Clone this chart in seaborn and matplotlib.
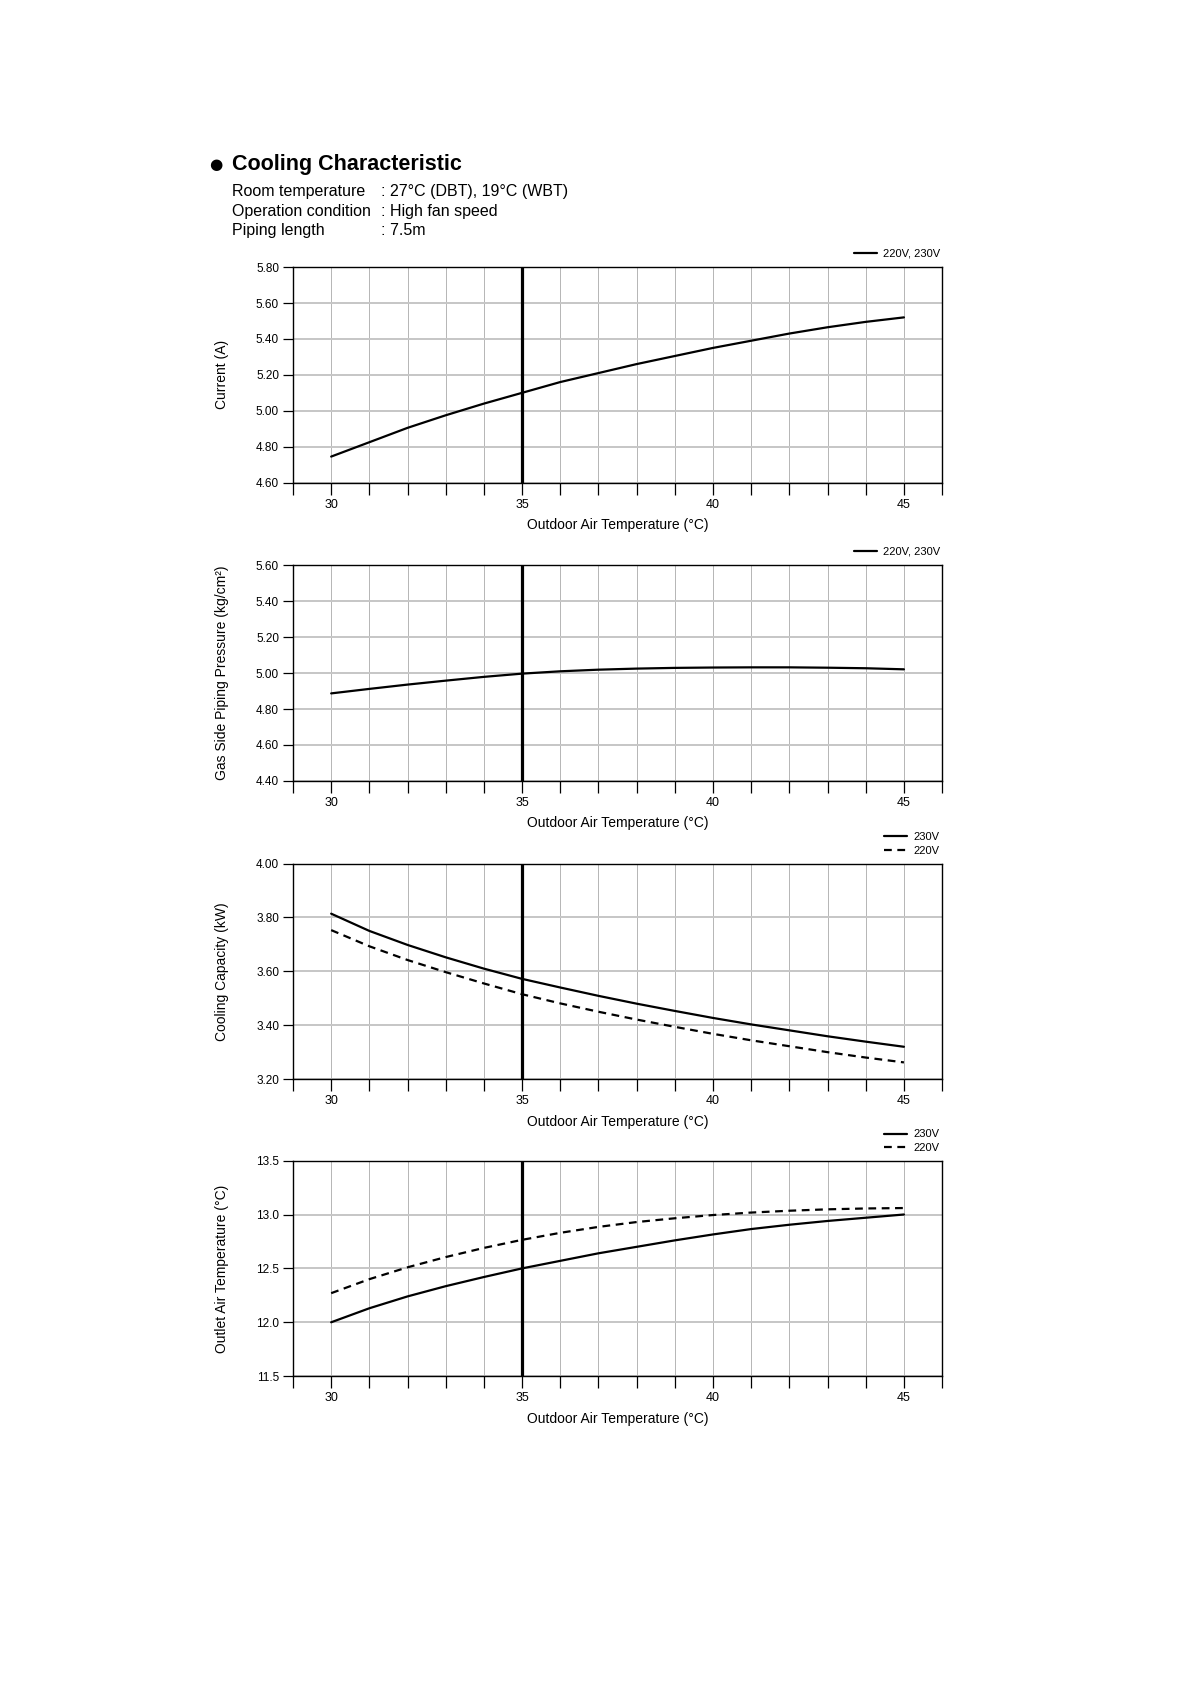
import matplotlib
matplotlib.use("Agg")
import pandas as pd
import matplotlib.pyplot as plt
import seaborn as sns
from matplotlib.ticker import FixedLocator, MultipleLocator, FormatStrFormatter

# ==============================================================================
# DATA
# ==============================================================================
OUTDOOR_TEMP = [30, 31, 32, 33, 34, 35, 36, 37, 38, 39, 40, 41, 42, 43, 44, 45]

CURRENT_A = [4.745, 4.825, 4.905, 4.975, 5.04, 5.10, 5.16, 5.21, 5.26, 5.305,
             5.35, 5.39, 5.43, 5.465, 5.495, 5.52]

GAS_PRESSURE = [4.887, 4.912, 4.936, 4.958, 4.979, 4.997, 5.010, 5.019, 5.025, 5.029,
                5.031, 5.032, 5.032, 5.030, 5.027, 5.021]

CAPACITY_230V = [3.814, 3.750, 3.698, 3.652, 3.610, 3.572, 3.540, 3.509, 3.480, 3.453,
                 3.427, 3.403, 3.381, 3.359, 3.339, 3.320]
CAPACITY_220V = [3.753, 3.693, 3.642, 3.597, 3.555, 3.515, 3.481, 3.450, 3.421, 3.394,
                 3.368, 3.344, 3.322, 3.300, 3.280, 3.262]

OUTLET_230V = [12.00, 12.13, 12.24, 12.335, 12.42, 12.50, 12.57, 12.64, 12.70, 12.76,
               12.815, 12.865, 12.905, 12.94, 12.97, 13.00]
OUTLET_220V = [12.27, 12.40, 12.51, 12.605, 12.69, 12.765, 12.83, 12.885, 12.93, 12.965,
               12.995, 13.018, 13.035, 13.048, 13.056, 13.06]

X_LABEL_TICKS = [30, 35, 40, 45]
Y_TICKS_CURRENT = [4.60, 4.80, 5.00, 5.20, 5.40, 5.60, 5.80]
Y_TICKS_PRESSURE = [4.40, 4.60, 4.80, 5.00, 5.20, 5.40, 5.60]
Y_TICKS_CAPACITY = [3.20, 3.40, 3.60, 3.80, 4.00]
Y_TICKS_OUTLET = [11.5, 12.0, 12.5, 13.0, 13.5]

# ==============================================================================
# STYLE
# ==============================================================================
sns.set_style("ticks")
plt.rcParams['font.family'] = ['Liberation Sans', 'DejaVu Sans']
plt.rcParams['text.color'] = 'black'
plt.rcParams['axes.labelcolor'] = 'black'

fig = plt.figure(figsize=(11.9, 16.84), dpi=100)

# header text
fig.text(0.1760, 0.9025, "\u25cf", fontsize=11, va='center', ha='left',
         family='DejaVu Sans')
fig.text(0.1948, 0.9025, "Cooling Characteristic", fontsize=15.5,
         fontweight='bold', va='center', ha='left')
info_rows = [("Room temperature", ": 27°C (DBT), 19°C (WBT)"),
             ("Operation condition", ": High fan speed"),
             ("Piping length", ": 7.5m")]
for i, (k, v) in enumerate(info_rows):
    y = 0.8860 - i * 0.01145
    fig.text(0.1948, y, k, fontsize=11.5, va='center', ha='left')
    fig.text(0.3200, y, v, fontsize=11.5, va='center', ha='left')

AX_LEFT = 0.2462
AX_WIDTH = 0.5455
AX_HEIGHT = 0.1280
BOTTOMS = [0.7134, 0.5363, 0.3592, 0.1828]


def setup_axes(ax, yticks, fmt, ylabel):
    ax.set_xlim(29, 46)
    ax.set_ylim(yticks[0], yticks[-1])
    ax.xaxis.set_major_locator(FixedLocator(X_LABEL_TICKS))
    ax.xaxis.set_minor_locator(MultipleLocator(1))
    ax.set_yticks(yticks)
    ax.yaxis.set_major_formatter(FormatStrFormatter(fmt))
    ax.set_axisbelow(True)
    ax.grid(axis='y', color='#c6c6c6', lw=1.4)
    ax.grid(axis='x', which='both', color='#a2a2a2', lw=0.55)
    ax.tick_params(axis='x', which='both', direction='out', length=8.5,
                   width=0.9, pad=3, labelsize=9, colors='black')
    ax.tick_params(axis='y', direction='out', length=7, width=0.9,
                   pad=3, labelsize=8.5, colors='black')
    for s in ax.spines.values():
        s.set_visible(True)
        s.set_color('black')
        s.set_linewidth(1.0)
    ax.axvline(35, color='black', lw=2.3, zorder=3)
    ax.set_xlabel("Outdoor Air Temperature (°C)", fontsize=10)
    ax.xaxis.set_label_coords(0.5, -0.165)
    ax.set_ylabel(ylabel, fontsize=10)
    ax.yaxis.set_label_coords(-0.098, 0.5)


def legend(ax, anchor):
    ax.legend(loc='lower right', bbox_to_anchor=anchor, frameon=False,
              fontsize=8, handlelength=2.1, handletextpad=0.55,
              borderpad=0, borderaxespad=0, labelspacing=0.35)


axes = [fig.add_axes([AX_LEFT, b, AX_WIDTH, AX_HEIGHT]) for b in BOTTOMS]

# Panel 1: current
df1 = pd.DataFrame({'t': OUTDOOR_TEMP, 'v': CURRENT_A})
sns.lineplot(data=df1, x='t', y='v', ax=axes[0], color='black', lw=1.6,
             label="220V, 230V", zorder=4)
setup_axes(axes[0], Y_TICKS_CURRENT, '%.2f', "Current (A)")
legend(axes[0], (0.997, 1.039))

# Panel 2: gas side piping pressure
df2 = pd.DataFrame({'t': OUTDOOR_TEMP, 'v': GAS_PRESSURE})
sns.lineplot(data=df2, x='t', y='v', ax=axes[1], color='black', lw=1.6,
             label="220V, 230V", zorder=4)
setup_axes(axes[1], Y_TICKS_PRESSURE, '%.2f', "Gas Side Piping Pressure (kg/cm²)")
legend(axes[1], (0.997, 1.039))

# Panel 3: cooling capacity
df3 = pd.DataFrame({'t': OUTDOOR_TEMP, 'v230': CAPACITY_230V, 'v220': CAPACITY_220V})
sns.lineplot(data=df3, x='t', y='v230', ax=axes[2], color='black', lw=1.6,
             label="230V", zorder=4)
sns.lineplot(data=df3, x='t', y='v220', ax=axes[2], color='black', lw=1.6,
             linestyle=(0, (3.5, 2.5)), label="220V", zorder=4)
setup_axes(axes[2], Y_TICKS_CAPACITY, '%.2f', "Cooling Capacity (kW)")
legend(axes[2], (0.996, 1.034))

# Panel 4: outlet air temperature
df4 = pd.DataFrame({'t': OUTDOOR_TEMP, 'v230': OUTLET_230V, 'v220': OUTLET_220V})
sns.lineplot(data=df4, x='t', y='v230', ax=axes[3], color='black', lw=1.6,
             label="230V", zorder=4)
sns.lineplot(data=df4, x='t', y='v220', ax=axes[3], color='black', lw=1.6,
             linestyle=(0, (3.5, 2.5)), label="220V", zorder=4)
setup_axes(axes[3], Y_TICKS_OUTLET, '%.1f', "Outlet Air Temperature (°C)")
legend(axes[3], (0.996, 1.034))

fig.savefig("out.png", dpi=100, facecolor='white')
